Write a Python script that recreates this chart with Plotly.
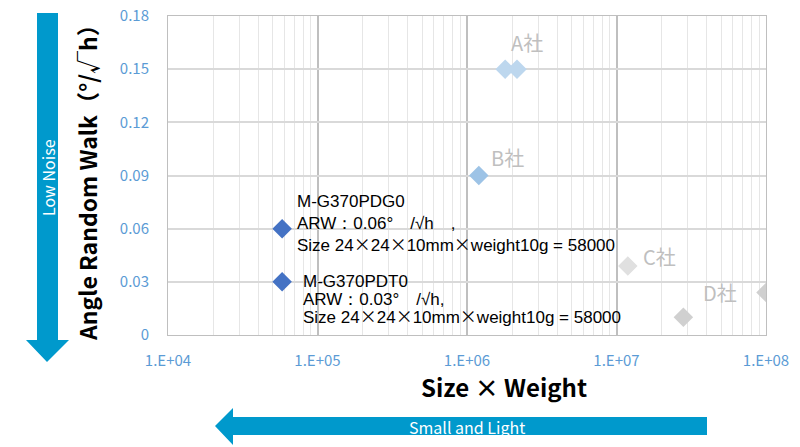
import math
import plotly.graph_objects as go

# our products
own_names = ["M-G370PDG0", "M-G370PDT0"]
own_x = [58000, 58000]
own_y = [0.06, 0.03]

# competitors
comp_labels = ["A社", "A社", "B社", "C社", "D社", "D社"]
comp_x = [1.8e6, 2.16e6, 1.2e6, 1.19e7, 2.8e7, 1.0e8]
comp_y = [0.15, 0.15, 0.09, 0.039, 0.01, 0.024]
comp_colors = ["#BDD7EE", "#BDD7EE", "#9DC3E6", "#E0E0E0", "#D0D0D0", "#D0D0D0"]

x_ticks = [1e4, 1e5, 1e6, 1e7, 1e8]
x_ticktext = ["1.E+04", "1.E+05", "1.E+06", "1.E+07", "1.E+08"]
y_ticks = [0, 0.03, 0.06, 0.09, 0.12, 0.15, 0.18]
y_ticktext = ["0", "0.03", "0.06", "0.09", "0.12", "0.15", "0.18"]

minor_vals = [m * 10 ** e for e in range(4, 8) for m in range(2, 10)]

W, H = 800, 447
L, R, T, B = 168, 34, 16, 112
pw, ph = W - L - R, H - T - B


def px(x, y):
    # pixel position -> paper coords
    return (x - L) / pw, (H - B - y) / ph


fig = go.Figure()
fig.add_trace(go.Scatter(x=comp_x, y=comp_y, mode="markers",
                         marker=dict(symbol="diamond", size=15, color=comp_colors),
                         hoverinfo="skip"))
fig.add_trace(go.Scatter(x=own_x, y=own_y, mode="markers",
                         marker=dict(symbol="diamond", size=15, color="#4472C4"),
                         hoverinfo="skip"))

tick_font = dict(family="Noto Sans CJK JP", size=15, color="#5B9BD5")
fig.update_xaxes(type="log", range=[4, 8], tickvals=x_ticks, ticktext=x_ticktext,
                 tickfont=tick_font, ticklabelstandoff=12, automargin=False,
                 showgrid=True, gridcolor="#BFBFBF", gridwidth=1.5,
                 showline=True, linecolor="#BFBFBF", mirror=True, zeroline=False,
                 minor=dict(tickvals=minor_vals, showgrid=True, gridcolor="#E6E6E6", gridwidth=1))
fig.update_yaxes(range=[0, 0.18], tickvals=y_ticks, ticktext=y_ticktext,
                 tickfont=tick_font, ticklabelstandoff=15, automargin=False,
                 showgrid=True, gridcolor="#D9D9D9", gridwidth=1.5,
                 showline=True, linecolor="#BFBFBF", mirror=True, zeroline=False)

# product notes: one text block per product
X = "<span style='font-family:Noto Sans CJK JP'>×</span>"
size_line = f"Size 24{X}24{X}10mm{X}weight10g = 58000"
notes = [
    (0, ["M-G370PDG0", "ARW：0.06°　/√h　,", size_line], 13, 5, 17),
    (1, ["M-G370PDT0", "ARW：0.03°　/√h,", size_line], 19, -18, 14),
]
for i, lines, xs, ys, base in notes:
    text = "<br>".join(f"<span style='font-size:17px'>{s}</span>" for s in lines)
    fig.add_annotation(x=math.log10(own_x[i]), y=own_y[i], xref="x", yref="y", text=text,
                       showarrow=False, xanchor="left", yanchor="middle", align="left",
                       xshift=xs, yshift=ys,
                       font=dict(family="Liberation Sans, Arial", size=base, color="black"))

# company labels
lab_font = dict(family="Noto Sans CJK JP", size=20, color="#BFBFBF")
for idx, text, xs, ys in [(1, "A社", 10, 27), (2, "B社", 29, 18), (3, "C社", 32, 9), (5, "D社", -46, 0)]:
    fig.add_annotation(x=math.log10(comp_x[idx]), y=comp_y[idx], xref="x", yref="y", text=text,
                       showarrow=False, xanchor="center", yanchor="middle",
                       xshift=xs, yshift=ys, font=lab_font)


def label(x, y, text, font, angle=0):
    ax, ay = px(x, y)
    fig.add_annotation(x=ax, y=ay, xref="paper", yref="paper", text=text, showarrow=False,
                       xanchor="center", yanchor="middle", textangle=angle, font=font)


# axis titles
label(87, 177, "<b>Angle Random Walk（°/√h）</b>",
      dict(family="Noto Sans CJK JP", size=23, color="black"), -90)
label(504, 386, "<b>Size × Weight</b>", dict(family="Noto Sans CJK JP", size=24, color="black"))


def path(points):
    return "M " + " L ".join("%.5f,%.5f" % px(x, y) for x, y in points) + " Z"


# big arrows
arrow_blue = "#0099CC"
fig.add_shape(type="path", xref="paper", yref="paper", layer="below",
              path=path([(37, 13), (58, 13), (58, 340), (69, 340), (47, 362), (26, 340), (37, 340)]),
              fillcolor=arrow_blue, line=dict(width=0))
fig.add_shape(type="path", xref="paper", yref="paper", layer="below",
              path=path([(707, 417), (233, 417), (233, 408), (215, 426), (233, 445), (233, 435), (707, 435)]),
              fillcolor=arrow_blue, line=dict(width=0))
label(48, 178, "Low Noise", dict(family="Noto Sans CJK JP", size=16, color="white"), -90)
label(467, 427, "Small and Light", dict(family="Noto Sans CJK JP", size=16, color="white"))

fig.update_layout(width=W, height=H, margin=dict(l=L, r=R, t=T, b=B, autoexpand=False),
                  plot_bgcolor="white", paper_bgcolor="white", showlegend=False)

fig.write_html("out.html", config={"displayModeBar": False},
               post_script="document.body.style.margin='0';")
